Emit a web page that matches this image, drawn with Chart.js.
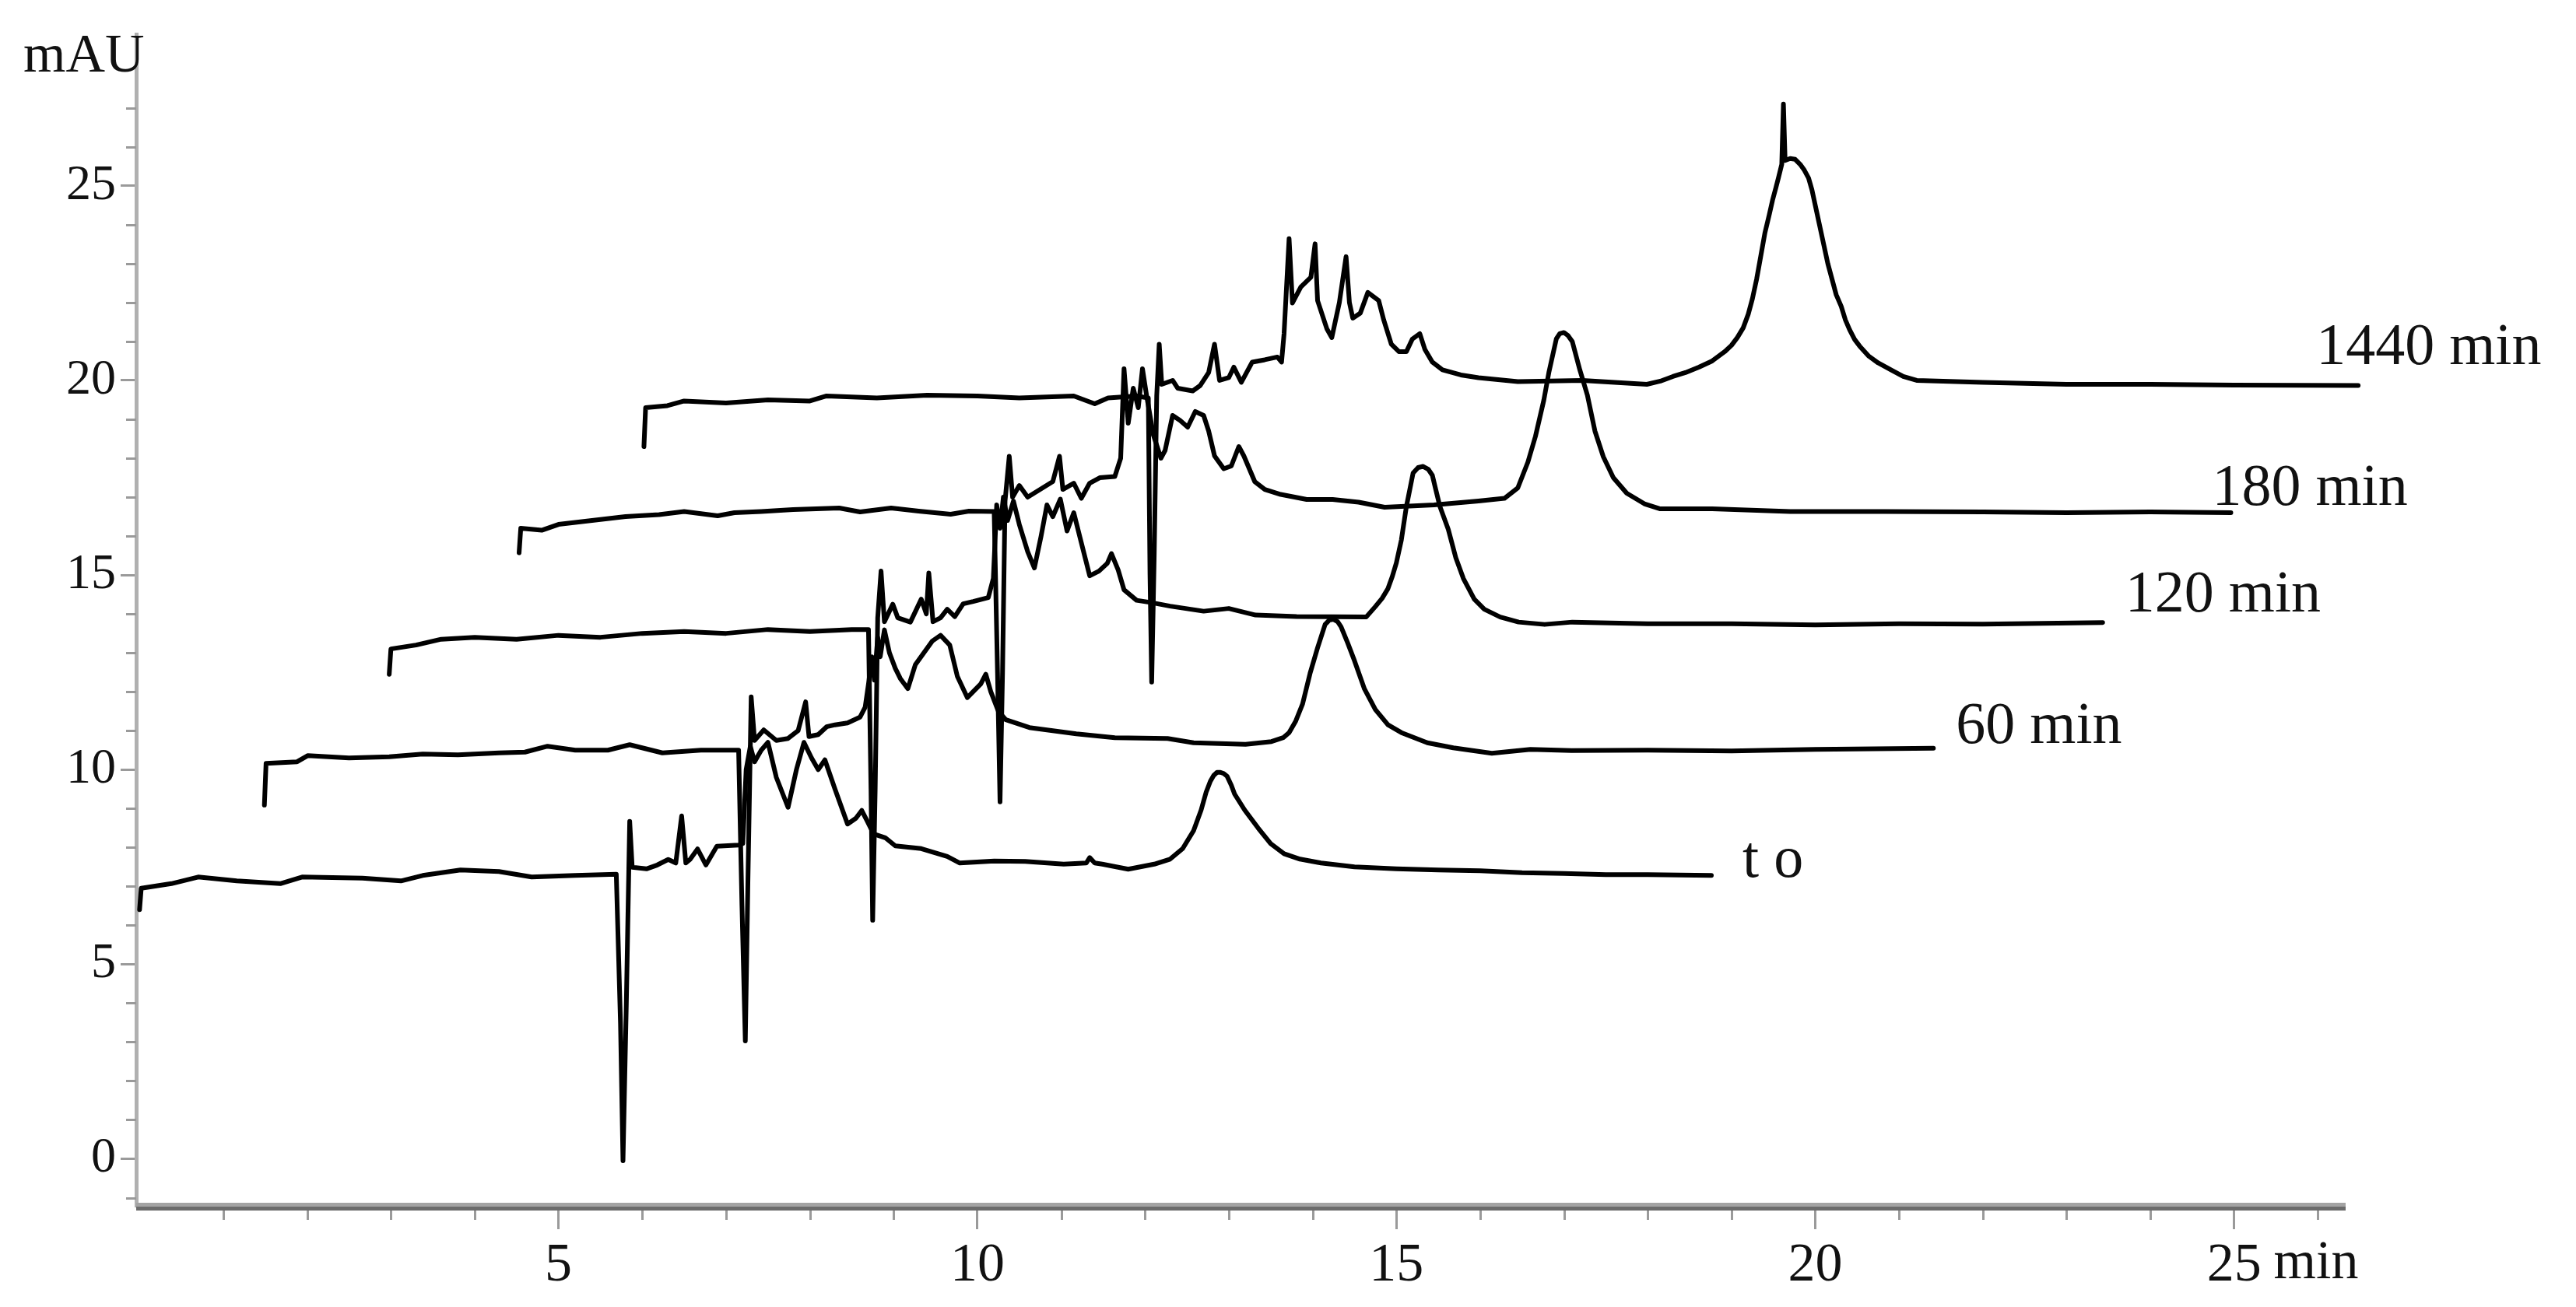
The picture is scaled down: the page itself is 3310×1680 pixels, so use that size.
<!DOCTYPE html>
<html>
<head>
<meta charset="utf-8">
<script src="https://cdn.jsdelivr.net/npm/chart.js@4.4.1/dist/chart.umd.min.js"></script>
<style>
html,body{margin:0;padding:0;background:#ffffff;}
canvas{display:block;}
</style>
</head>
<body>
<canvas id="c" width="3310" height="1680" style="width:3310px;height:1680px"></canvas>
<script>
// ---------------- DATA ----------------
const seriesLabels = ['t o', '60 min', '120 min', '180 min', '1440 min'];

// [time (min), absorbance (mAU)] as displayed (offset waterfall)
const traceT0 = [[0,6.4],[0.02,6.95],[0.38,7.07],[0.7,7.24],[1.16,7.14],[1.68,7.07],[1.94,7.24],[2.66,7.21],[3.12,7.14],[3.38,7.28],[3.83,7.42],[4.29,7.38],[4.68,7.24],[5.2,7.28],[5.69,7.31],[5.74,3.5],[5.77,-0.05],[5.81,4.0],[5.85,8.67],[5.88,7.49],[6.05,7.45],[6.18,7.55],[6.31,7.69],[6.4,7.6],[6.47,8.81],[6.52,7.6],[6.57,7.69],[6.66,7.96],[6.76,7.55],[6.89,8.03],[7.15,8.06],[7.2,8.1],[7.24,10.0],[7.29,10.6],[7.34,10.2],[7.42,10.5],[7.5,10.7],[7.6,9.8],[7.74,9.03],[7.84,10.0],[7.93,10.7],[8.02,10.3],[8.1,10.0],[8.18,10.25],[8.3,9.5],[8.45,8.6],[8.55,8.75],[8.62,8.95],[8.68,8.7],[8.76,8.35],[8.9,8.25],[9.02,8.04],[9.33,7.97],[9.64,7.77],[9.79,7.6],[10.2,7.65],[10.57,7.64],[11.03,7.57],[11.3,7.6],[11.34,7.74],[11.4,7.6],[11.49,7.57],[11.8,7.44],[12.11,7.57],[12.3,7.7],[12.45,7.97],[12.58,8.43],[12.67,8.96],[12.73,9.42],[12.78,9.7],[12.82,9.85],[12.86,9.93],[12.9,9.93],[12.94,9.9],[12.98,9.83],[13.03,9.6],[13.07,9.37],[13.19,8.96],[13.35,8.5],[13.5,8.1],[13.66,7.84],[13.85,7.7],[14.1,7.6],[14.5,7.5],[15.0,7.45],[15.5,7.42],[16.0,7.4],[16.5,7.35],[17.0,7.33],[17.5,7.3],[18.0,7.3],[18.76,7.28]];

const trace60 = [[1.49,9.09],[1.51,10.16],[1.88,10.2],[2.01,10.36],[2.5,10.3],[2.98,10.33],[3.38,10.4],[3.8,10.38],[4.29,10.43],[4.6,10.45],[4.87,10.6],[5.2,10.5],[5.59,10.5],[5.85,10.64],[6.24,10.43],[6.7,10.5],[7.15,10.5],[7.19,6.5],[7.23,3.03],[7.26,7.0],[7.3,11.87],[7.34,10.75],[7.45,11.02],[7.6,10.75],[7.74,10.8],[7.86,11.0],[7.95,11.74],[7.99,10.85],[8.1,10.9],[8.2,11.1],[8.3,11.15],[8.45,11.2],[8.6,11.35],[8.66,11.6],[8.7,12.2],[8.74,12.9],[8.77,12.3],[8.81,13.4],[8.84,12.9],[8.89,13.59],[8.95,13.0],[9.02,12.6],[9.08,12.34],[9.17,12.08],[9.26,12.7],[9.36,13.0],[9.46,13.3],[9.56,13.45],[9.67,13.2],[9.76,12.4],[9.88,11.85],[10.04,12.2],[10.1,12.45],[10.16,12.0],[10.25,11.5],[10.34,11.28],[10.62,11.08],[11.18,10.92],[11.64,10.82],[12.27,10.8],[12.58,10.69],[13.2,10.65],[13.51,10.72],[13.65,10.82],[13.72,10.95],[13.8,11.25],[13.88,11.68],[13.97,12.47],[14.06,13.13],[14.15,13.73],[14.2,13.84],[14.25,13.86],[14.3,13.8],[14.34,13.67],[14.42,13.25],[14.5,12.8],[14.62,12.07],[14.75,11.54],[14.9,11.15],[15.06,10.95],[15.37,10.69],[15.68,10.56],[16.14,10.42],[16.6,10.52],[17.09,10.49],[18.0,10.5],[19.0,10.48],[20.0,10.52],[21.41,10.55]];

const trace120 = [[2.98,12.45],[3.0,13.1],[3.3,13.2],[3.6,13.35],[4.0,13.4],[4.5,13.35],[5.0,13.45],[5.5,13.4],[6.0,13.5],[6.5,13.55],[7.0,13.5],[7.5,13.6],[8.0,13.55],[8.5,13.6],[8.7,13.6],[8.73,9.5],[8.75,6.13],[8.78,9.5],[8.81,13.9],[8.85,15.1],[8.89,13.8],[8.99,14.25],[9.05,13.9],[9.2,13.79],[9.33,14.38],[9.39,14.0],[9.42,15.05],[9.47,13.8],[9.56,13.9],[9.64,14.12],[9.73,13.93],[9.83,14.26],[9.95,14.32],[10.13,14.42],[10.19,14.91],[10.23,16.8],[10.27,16.2],[10.31,17.0],[10.36,16.4],[10.43,16.9],[10.5,16.3],[10.6,15.6],[10.68,15.18],[10.76,16.0],[10.83,16.8],[10.9,16.5],[10.99,16.95],[11.07,16.13],[11.15,16.6],[11.22,16.0],[11.34,14.98],[11.45,15.1],[11.55,15.3],[11.6,15.55],[11.68,15.13],[11.75,14.62],[11.9,14.35],[12.08,14.29],[12.3,14.2],[12.7,14.07],[13.0,14.14],[13.32,13.97],[13.81,13.93],[14.64,13.92],[14.75,14.19],[14.83,14.4],[14.9,14.65],[14.95,14.95],[15.0,15.31],[15.06,15.9],[15.12,16.76],[15.2,17.62],[15.26,17.76],[15.32,17.79],[15.38,17.72],[15.43,17.56],[15.47,17.2],[15.52,16.76],[15.62,16.17],[15.71,15.44],[15.8,14.91],[15.93,14.38],[16.05,14.12],[16.24,13.92],[16.46,13.79],[16.77,13.73],[17.1,13.79],[18.0,13.75],[19.0,13.75],[20.0,13.72],[21.0,13.75],[22.0,13.74],[23.43,13.78]];

const trace180 = [[4.53,15.57],[4.55,16.2],[4.8,16.15],[5.0,16.3],[5.4,16.4],[5.8,16.5],[6.2,16.55],[6.5,16.63],[6.9,16.52],[7.1,16.6],[7.42,16.63],[7.8,16.68],[8.35,16.72],[8.6,16.62],[8.97,16.72],[9.3,16.64],[9.68,16.56],[9.9,16.64],[10.2,16.63],[10.24,12.5],[10.27,9.17],[10.3,12.5],[10.33,16.9],[10.38,18.05],[10.42,17.0],[10.5,17.3],[10.6,17.0],[10.75,17.2],[10.9,17.4],[10.98,18.05],[11.02,17.2],[11.15,17.36],[11.24,16.97],[11.34,17.36],[11.46,17.5],[11.64,17.53],[11.71,18.0],[11.75,20.3],[11.8,18.9],[11.86,19.8],[11.92,19.3],[11.97,20.3],[12.02,19.6],[12.1,18.6],[12.19,18.0],[12.24,18.2],[12.33,19.1],[12.42,18.97],[12.51,18.8],[12.6,19.2],[12.7,19.1],[12.76,18.7],[12.83,18.06],[12.94,17.73],[13.03,17.8],[13.12,18.3],[13.18,18.06],[13.31,17.4],[13.43,17.2],[13.62,17.07],[13.93,16.94],[14.24,16.94],[14.55,16.87],[14.86,16.74],[15.45,16.8],[15.98,16.9],[16.29,16.97],[16.45,17.24],[16.57,17.9],[16.66,18.56],[16.76,19.49],[16.82,20.2],[16.91,21.07],[16.95,21.2],[17.0,21.23],[17.05,21.15],[17.1,21.0],[17.19,20.27],[17.28,19.62],[17.37,18.7],[17.47,18.04],[17.59,17.5],[17.75,17.1],[17.96,16.83],[18.15,16.7],[18.77,16.7],[19.7,16.63],[20.81,16.63],[22.0,16.62],[23.0,16.6],[24.0,16.62],[24.96,16.6]];

const trace1440 = [[6.02,18.3],[6.04,19.3],[6.3,19.35],[6.5,19.47],[7.0,19.42],[7.5,19.5],[8.0,19.47],[8.2,19.6],[8.8,19.55],[9.4,19.62],[10.0,19.6],[10.5,19.55],[11.15,19.6],[11.4,19.4],[11.56,19.55],[11.9,19.6],[12.04,19.55],[12.06,15.0],[12.08,12.25],[12.11,15.5],[12.14,19.6],[12.17,20.93],[12.2,19.9],[12.33,20.0],[12.39,19.8],[12.57,19.73],[12.66,19.87],[12.76,20.2],[12.83,20.93],[12.89,20.0],[13.0,20.07],[13.06,20.34],[13.15,19.95],[13.28,20.47],[13.43,20.53],[13.58,20.6],[13.63,20.47],[13.66,21.2],[13.72,23.64],[13.76,21.99],[13.86,22.4],[13.98,22.65],[14.03,23.51],[14.06,22.05],[14.17,21.33],[14.23,21.1],[14.32,22.0],[14.4,23.18],[14.44,22.0],[14.48,21.6],[14.57,21.73],[14.66,22.26],[14.79,22.05],[14.85,21.55],[14.94,20.93],[15.03,20.74],[15.12,20.74],[15.19,21.06],[15.28,21.2],[15.34,20.8],[15.43,20.47],[15.55,20.27],[15.77,20.14],[15.98,20.07],[16.45,19.97],[17.22,20.0],[17.99,19.9],[18.15,19.98],[18.3,20.1],[18.45,20.2],[18.61,20.34],[18.77,20.5],[18.92,20.74],[19.0,20.9],[19.07,21.1],[19.14,21.35],[19.2,21.7],[19.25,22.1],[19.3,22.6],[19.35,23.2],[19.4,23.8],[19.45,24.25],[19.49,24.63],[19.53,24.95],[19.56,25.2],[19.6,25.55],[19.62,27.1],[19.64,25.65],[19.7,25.7],[19.76,25.68],[19.82,25.55],[19.87,25.4],[19.92,25.2],[19.96,24.9],[20.0,24.5],[20.05,24.0],[20.1,23.5],[20.15,23.0],[20.2,22.6],[20.25,22.2],[20.31,21.9],[20.36,21.55],[20.41,21.3],[20.47,21.05],[20.53,20.88],[20.64,20.62],[20.75,20.45],[20.92,20.25],[21.05,20.1],[21.21,20.0],[22.0,19.95],[23.0,19.9],[24.0,19.9],[25.0,19.88],[26.48,19.87]];

const xTickValues = [5, 10, 15, 20, 25];
const yTickValues = [0, 5, 10, 15, 20, 25];
const xMinorTicks = [1,2,3,4,6,7,8,9,11,12,13,14,16,17,18,19,21,22,23,24,26];
const yMinorTicks = [-1,1,2,3,4,6,7,8,9,11,12,13,14,16,17,18,19,21,22,23,24,26,27];
const yAxisTitle = 'mAU';
const xAxisTitle = 'min';

// ---------------- STYLE ----------------
const FONT = "'Liberation Serif', 'Times New Roman', serif";
const labelStyle = {
  size: 76,
  dx: [40, 29, 29, -24, -54],
  dy: [-18, -27, -34, -30, -47]
};

const toXY = arr => arr.map(p => ({x: p[0], y: p[1]}));
const traces = [traceT0, trace60, trace120, trace180, trace1440];

const decor = {
  id: 'decor',
  afterDraw(chart) {
    const {ctx, scales: {x, y}, chartArea} = chart;
    ctx.save();
    // x axis bar (two-tone grey)
    ctx.fillStyle = '#a3a3a3';
    ctx.fillRect(chartArea.left, chartArea.bottom - 4, chartArea.right - chartArea.left, 5);
    ctx.fillStyle = '#6b6b6b';
    ctx.fillRect(chartArea.left, chartArea.bottom + 1, chartArea.right - chartArea.left, 5);
    // minor ticks
    ctx.strokeStyle = '#9a9a9a';
    ctx.lineWidth = 3;
    yMinorTicks.forEach(v => {
      const py = Math.round(y.getPixelForValue(v)) + 0.5;
      ctx.beginPath(); ctx.moveTo(chartArea.left - 13, py); ctx.lineTo(chartArea.left, py); ctx.stroke();
    });
    xMinorTicks.forEach(v => {
      const px = Math.round(x.getPixelForValue(v)) + 0.5;
      ctx.beginPath(); ctx.moveTo(px, chartArea.bottom + 6); ctx.lineTo(px, chartArea.bottom + 18); ctx.stroke();
    });
    // series labels
    ctx.fillStyle = '#111';
    ctx.font = labelStyle.size + 'px ' + FONT;
    ctx.textAlign = 'left';
    ctx.textBaseline = 'middle';
    chart.data.datasets.forEach((ds, i) => {
      const meta = chart.getDatasetMeta(i);
      const last = meta.data[meta.data.length - 1];
      ctx.fillText(seriesLabels[i], last.x + labelStyle.dx[i], last.y + labelStyle.dy[i]);
    });
    // axis titles
    ctx.font = '70px ' + FONT;
    ctx.textBaseline = 'alphabetic';
    ctx.textAlign = 'left';
    ctx.fillText(yAxisTitle, chartArea.left - 145, chartArea.top + 48);
    ctx.textAlign = 'center';
    ctx.fillText(xAxisTitle, chartArea.right - 38, chartArea.bottom + 93);
    ctx.restore();
  }
};

new Chart(document.getElementById('c'), {
  type: 'line',
  data: {
    datasets: traces.map((t, i) => ({
      label: seriesLabels[i],
      data: toXY(t),
      borderColor: '#000',
      borderWidth: 6,
      pointRadius: 0,
      tension: 0,
      fill: false,
      clip: false,
      borderJoinStyle: 'round',
      borderCapStyle: 'round'
    }))
  },
  options: {
    responsive: false,
    animation: false,
    devicePixelRatio: 1,
    layout: {padding: {left: 0, top: 32, right: 296, bottom: 0}},
    plugins: {legend: {display: false}, tooltip: {enabled: false}},
    scales: {
      x: {
        type: 'linear',
        min: -0.04,
        max: 26.33,
        afterBuildTicks: s => { s.ticks = xTickValues.map(v => ({value: v})); },
        afterFit: s => { s.height = 130; },
        border: {display: false},
        grid: {display: true, drawOnChartArea: false, drawTicks: true, tickLength: 30, color: '#9a9a9a', lineWidth: 3},
        ticks: {color: '#111', font: {family: FONT, size: 70}, padding: 6, maxRotation: 0, autoSkip: false,
                callback: v => String(v)}
      },
      y: {
        type: 'linear',
        min: -1.209,
        max: 28.886,
        afterBuildTicks: s => { s.ticks = yTickValues.map(v => ({value: v})); },
        afterFit: s => { s.width = 175; },
        border: {display: true, color: '#b0b0b0', width: 5},
        grid: {display: true, drawOnChartArea: false, drawTicks: true, tickLength: 20, color: '#9a9a9a', lineWidth: 3},
        ticks: {color: '#111', font: {family: FONT, size: 64}, padding: 6, autoSkip: false,
                callback: v => String(v)}
      }
    }
  },
  plugins: [decor]
});
</script>
</body>
</html>
